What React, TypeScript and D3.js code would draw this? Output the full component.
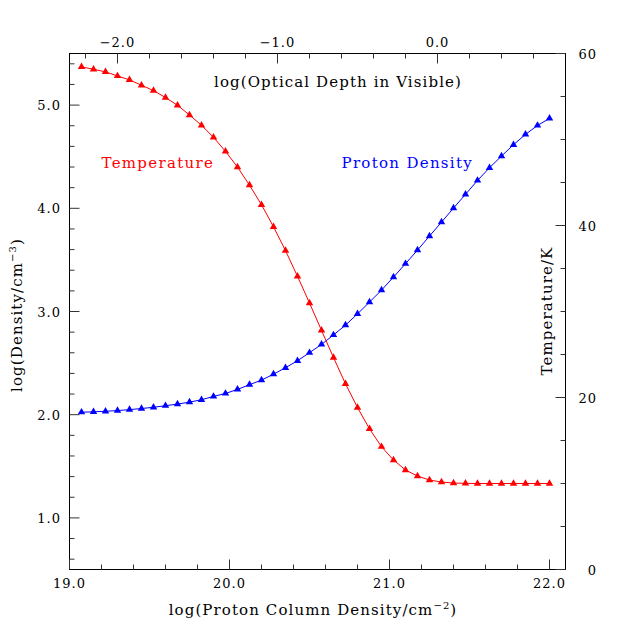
import React from "react";
import * as d3 from "d3";

// ---- data ----
const logColumn = [19.075, 19.15, 19.225, 19.3, 19.375, 19.45, 19.525, 19.6, 19.675, 19.75,
  19.825, 19.9, 19.975, 20.05, 20.125, 20.2, 20.275, 20.35, 20.425, 20.5,
  20.575, 20.65, 20.725, 20.8, 20.875, 20.95, 21.025, 21.1, 21.175, 21.25,
  21.325, 21.4, 21.475, 21.55, 21.625, 21.7, 21.775, 21.85, 21.925, 22.0];
const logDensity = [2.024, 2.028, 2.033, 2.040, 2.049, 2.060, 2.072, 2.087, 2.103, 2.122,
  2.145, 2.177, 2.206, 2.245, 2.291, 2.335, 2.393, 2.455, 2.523, 2.601,
  2.681, 2.773, 2.868, 2.977, 3.091, 3.207, 3.333, 3.463, 3.595, 3.731,
  3.866, 4.002, 4.135, 4.270, 4.393, 4.506, 4.616, 4.716, 4.803, 4.871];
const temperature = [58.44, 58.17, 57.86, 57.39, 56.93, 56.31, 55.69, 54.88, 53.98, 52.85,
  51.65, 50.25, 48.62, 46.79, 44.69, 42.41, 39.85, 37.08, 34.09, 30.99,
  27.8, 24.65, 21.59, 18.83, 16.35, 14.28, 12.73, 11.57, 10.87, 10.40,
  10.17, 10.05, 10.02, 10.0, 10.0, 10.0, 10.0, 10.0, 10.0, 10.0];

const bottomMajor = [19, 20, 21, 22];
const topMajor = [-2, -1, 0];
const leftMajor = [1, 2, 3, 4, 5];
const rightMajor = [0, 20, 40, 60];
const tauOffset = 21.3; // log(tau) = logN - 21.3

// ---- layout ----
const L = 69.5, R = 565.5, T = 53.5, B = 569.5;
const FONT = "DejaVu Serif";

export default function App() {
  const x = d3.scaleLinear().domain([19, 22.1]).range([L, R]);
  const xTop = d3.scaleLinear().domain([19 - tauOffset, 22.1 - tauOffset]).range([L, R]);
  const yL = d3.scaleLinear().domain([0.5, 5.5]).range([B, T]);
  const yR = d3.scaleLinear().domain([0, 60]).range([B, T]);

  const near = (a: number, arr: number[]) => arr.some((m) => Math.abs(m - a) < 1e-6);
  const bottomMinor = d3.range(19.2, 22.05, 0.2).filter((v) => !near(Math.round(v * 10) / 10, bottomMajor));
  const topMinor = d3.range(-2.2, 0.75, 0.2).filter((v) => !near(Math.round(v * 10) / 10, topMajor));
  const leftMinor = d3.range(0.6, 5.45, 0.2).filter((v) => !near(Math.round(v * 10) / 10, leftMajor));
  const rightMinor = d3.range(5, 60, 5).filter((v) => !near(v, rightMajor));

  const denLine = d3.line<number>().x((_, i) => x(logColumn[i])).y((d) => yL(d));
  const tLine = d3.line<number>().x((_, i) => x(logColumn[i])).y((d) => yR(d));
  const tri = d3.symbol().type(d3.symbolTriangle).size(24)() as string;

  const fmt = d3.format(".1f");
  const minus = (s: string) => s.replace("-", "\u2212");
  const tickCol = "#333";
  const MAJ = 10, MIN = 5;

  return (
    <svg width={638} height={638} style={{ position: "absolute", left: 0, top: 0, background: "#fff" }}
      fontFamily={FONT}>
      <rect x={0} y={0} width={638} height={638} fill="#fff" />
      {/* frame */}
      <rect x={L} y={T} width={R - L} height={B - T} fill="none" stroke="#000" strokeWidth={1} />
      {/* bottom ticks */}
      {bottomMajor.map((v) => (
        <g key={"bM" + v}>
          <line x1={x(v)} x2={x(v)} y1={B} y2={B - MAJ} stroke={tickCol} />
          <text x={x(v)} y={587.5} textAnchor="middle" fontSize={13} letterSpacing={1}>{fmt(v)}</text>
        </g>
      ))}
      {bottomMinor.map((v) => (
        <line key={"bm" + v} x1={x(v)} x2={x(v)} y1={B} y2={B - MIN} stroke={tickCol} />
      ))}
      {/* top ticks */}
      {topMajor.map((v) => (
        <g key={"tM" + v}>
          <line x1={xTop(v)} x2={xTop(v)} y1={T} y2={T + MAJ} stroke={tickCol} />
          <text x={xTop(v)} y={46.5} textAnchor="middle" fontSize={13} letterSpacing={1}>{minus(fmt(v))}</text>
        </g>
      ))}
      {topMinor.map((v) => (
        <line key={"tm" + v} x1={xTop(v)} x2={xTop(v)} y1={T} y2={T + MIN} stroke={tickCol} />
      ))}
      {/* left ticks */}
      {leftMajor.map((v) => (
        <g key={"lM" + v}>
          <line x1={L} x2={L + MAJ} y1={yL(v)} y2={yL(v)} stroke={tickCol} />
          <text x={61} y={yL(v) + 5} textAnchor="end" fontSize={13} letterSpacing={1}>{fmt(v)}</text>
        </g>
      ))}
      {leftMinor.map((v) => (
        <line key={"lm" + v} x1={L} x2={L + MIN} y1={yL(v)} y2={yL(v)} stroke={tickCol} />
      ))}
      {/* right ticks */}
      {rightMajor.map((v) => (
        <g key={"rM" + v}>
          <line x1={R} x2={R - MAJ} y1={yR(v)} y2={yR(v)} stroke={tickCol} />
          <text x={597} y={yR(v) + 5} textAnchor="end" fontSize={13} letterSpacing={1}>{String(v)}</text>
        </g>
      ))}
      {rightMinor.map((v) => (
        <line key={"rm" + v} x1={R} x2={R - MIN} y1={yR(v)} y2={yR(v)} stroke={tickCol} />
      ))}

      {/* series */}
      <path d={denLine(logDensity) || ""} fill="none" stroke="#0000ff" strokeWidth={1} />
      <path d={tLine(temperature) || ""} fill="none" stroke="#ff0000" strokeWidth={1} />
      {logDensity.map((d, i) => (
        <path key={"dp" + i} d={tri} transform={`translate(${x(logColumn[i])},${yL(d)})`} fill="#0000ff" />
      ))}
      {temperature.map((d, i) => (
        <path key={"tp" + i} d={tri} transform={`translate(${x(logColumn[i])},${yR(d)})`} fill="#ff0000" />
      ))}

      {/* labels */}
      <text x={338} y={86.5} textAnchor="middle" fontSize={15} letterSpacing={1.1}>log(Optical Depth in Visible)</text>
      <text x={313} y={615} textAnchor="middle" fontSize={15} letterSpacing={1.1}>
        log(Proton Column Density/cm<tspan dy={-6} fontSize={10}>{"\u22122"}</tspan><tspan dy={6}>)</tspan>
      </text>
      <text transform="translate(22,315) rotate(-90)" textAnchor="middle" fontSize={15} letterSpacing={1.1}>
        log(Density/cm<tspan dy={-6} fontSize={10}>{"\u22123"}</tspan><tspan dy={6}>)</tspan>
      </text>
      <text transform="translate(552,311) rotate(-90)" textAnchor="middle" fontSize={15} letterSpacing={1.1}>Temperature/K</text>
      <text x={101.5} y={168} fontSize={15} letterSpacing={1.3} fill="#ff0000">Temperature</text>
      <text x={341.5} y={168} fontSize={15} letterSpacing={1.3} fill="#0000ff">Proton Density</text>
    </svg>
  );
}
